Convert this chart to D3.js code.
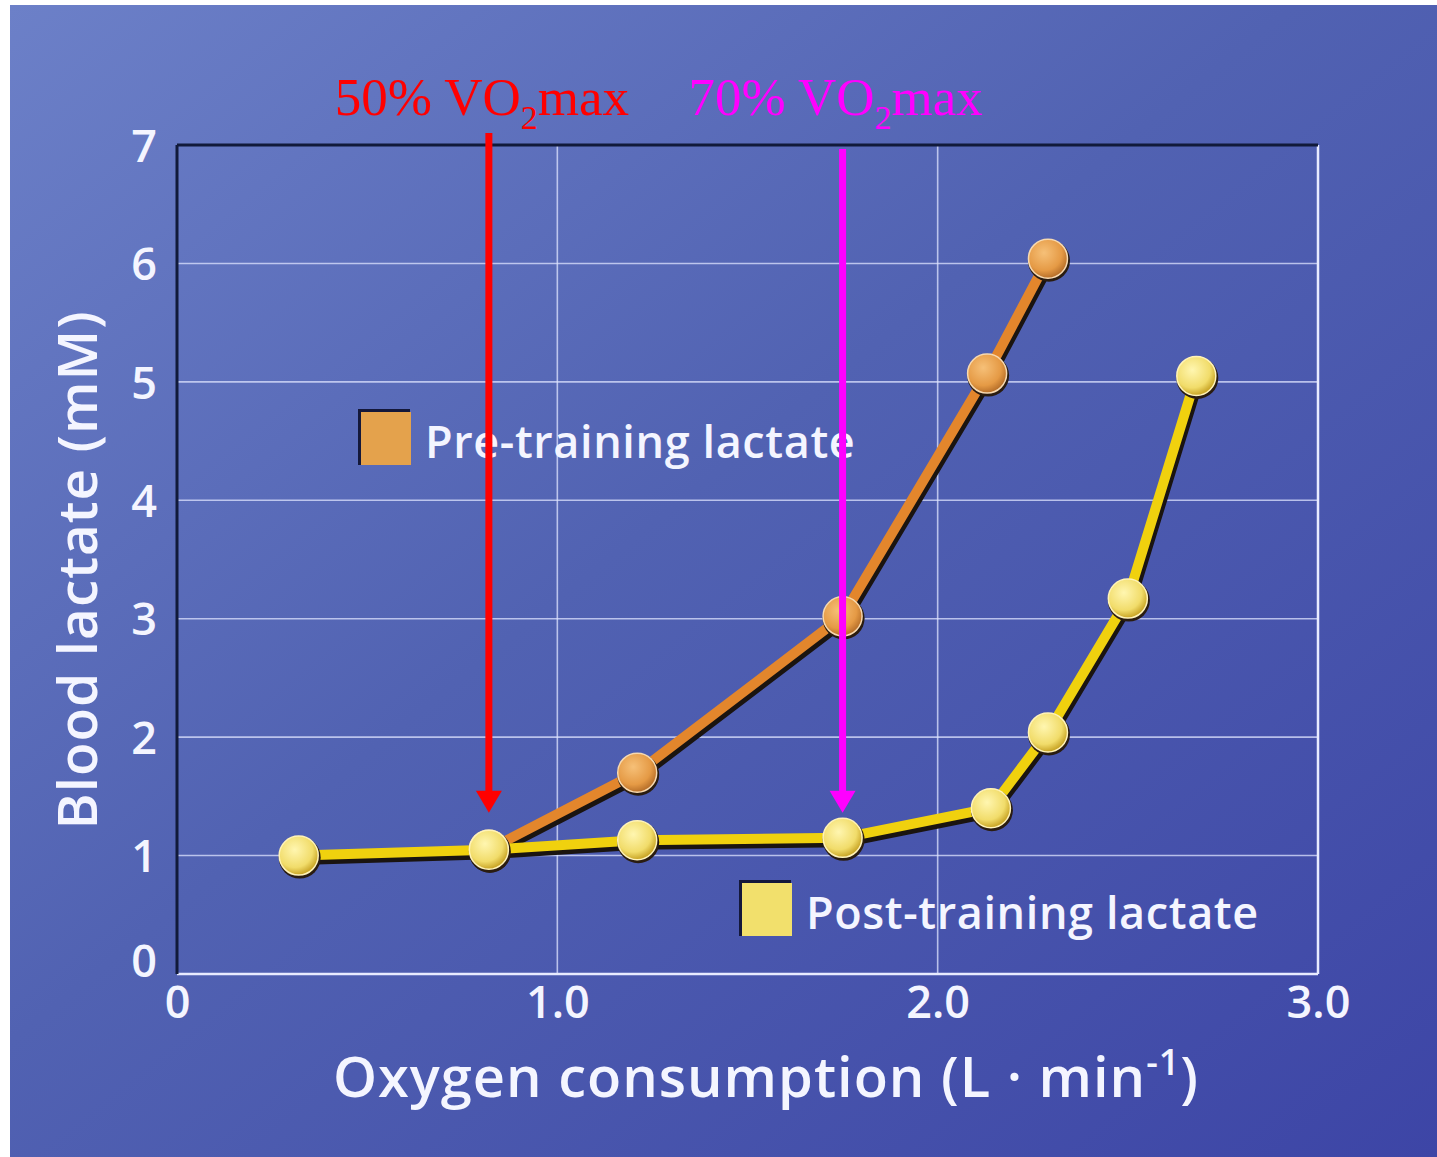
<!DOCTYPE html>
<html>
<head>
<meta charset="utf-8">
<script src="https://cdn.jsdelivr.net/npm/d3@7"></script>
<style>
  body { margin: 0; background: #fff; }
  svg { display: block; }
</style>
</head>
<body>
<div id="chart"></div>
<script>
// values
const preX  = [0.32, 0.82, 1.21, 1.75, 2.13, 2.29];
const preY  = [1.0, 1.05, 1.70, 3.02, 5.07, 6.04];
const postX = [0.32, 0.82, 1.21, 1.75, 2.14, 2.29, 2.50, 2.68];
const postY = [1.0, 1.05, 1.13, 1.15, 1.40, 2.04, 3.17, 5.05];
const xTicks = [0, 1, 2, 3];
const xTickLabels = ["0", "1.0", "2.0", "3.0"];
const yTicks = [0, 1, 2, 3, 4, 5, 6, 7];
const markers = [
  {x: 0.82, label: "50% VO", after: "max", color: "#ff0000"},
  {x: 1.75, label: "70% VO", after: "max", color: "#ff00ff"}
];

const w = 1437, h = 1157;
const sans = "'Open Sans', 'Noto Sans', sans-serif";

const xScale = d3.scaleLinear().domain([0, 3]).range([177, 1318]);
const yScale = d3.scaleLinear().domain([0, 7]).range([974, 145]);

const svg = d3.select("#chart").append("svg")
  .attr("width", w).attr("height", h);

const defs = svg.append("defs");
const bg = defs.append("linearGradient").attr("id", "bg")
  .attr("x1", "0").attr("y1", "0").attr("x2", "1").attr("y2", "1");
bg.append("stop").attr("offset", "0").attr("stop-color", "#6c80c8");
bg.append("stop").attr("offset", "0.45").attr("stop-color", "#5162b2");
bg.append("stop").attr("offset", "1").attr("stop-color", "#3d45a6");

const yb = defs.append("radialGradient").attr("id", "yellowBall")
  .attr("cx", "0.4").attr("cy", "0.35").attr("r", "0.65");
yb.append("stop").attr("offset", "0").attr("stop-color", "#fff6b0");
yb.append("stop").attr("offset", "0.7").attr("stop-color", "#f1dc6a");
yb.append("stop").attr("offset", "1").attr("stop-color", "#c9a526");

const ob = defs.append("radialGradient").attr("id", "orangeBall")
  .attr("cx", "0.4").attr("cy", "0.35").attr("r", "0.65");
ob.append("stop").attr("offset", "0").attr("stop-color", "#f6c078");
ob.append("stop").attr("offset", "0.7").attr("stop-color", "#e59a45");
ob.append("stop").attr("offset", "1").attr("stop-color", "#b8702a");

// background with thin white margin
svg.append("rect").attr("width", w).attr("height", h).attr("fill", "#fff");
svg.append("rect").attr("x", 10).attr("y", 5).attr("width", w - 10).attr("height", h - 5)
  .attr("fill", "url(#bg)");

// grid
const grid = svg.append("g");
grid.selectAll("line.h").data(yTicks.filter(d => d > 0 && d < 7)).enter().append("line")
  .attr("x1", xScale(0)).attr("x2", xScale(3))
  .attr("y1", d => yScale(d)).attr("y2", d => yScale(d))
  .attr("stroke", "#dfe4ff").attr("stroke-opacity", 0.75).attr("stroke-width", 1.6);
grid.selectAll("line.v").data([1, 2]).enter().append("line")
  .attr("x1", d => xScale(d)).attr("x2", d => xScale(d))
  .attr("y1", yScale(7)).attr("y2", yScale(0))
  .attr("stroke", "#dfe4ff").attr("stroke-opacity", 0.75).attr("stroke-width", 1.6);

// frame: light right/bottom, dark top/left
svg.append("line").attr("x1", xScale(3)).attr("x2", xScale(3))
  .attr("y1", yScale(7)).attr("y2", yScale(0))
  .attr("stroke", "#e8ebff").attr("stroke-width", 2.5);
svg.append("line").attr("x1", xScale(0)).attr("x2", xScale(3))
  .attr("y1", yScale(0)).attr("y2", yScale(0))
  .attr("stroke", "#e8ebff").attr("stroke-width", 2.5);
svg.append("line").attr("x1", xScale(0)).attr("x2", xScale(3))
  .attr("y1", yScale(7)).attr("y2", yScale(7))
  .attr("stroke", "#111a3a").attr("stroke-width", 3);
svg.append("line").attr("x1", xScale(0)).attr("x2", xScale(0))
  .attr("y1", yScale(7)).attr("y2", yScale(0))
  .attr("stroke", "#111a3a").attr("stroke-width", 3);

// axes (labels only)
const yAxis = d3.axisLeft(yScale).tickValues(yTicks).tickFormat(d3.format("d"))
  .tickSize(0).tickPadding(20);
const gy = svg.append("g").attr("transform", "translate(" + xScale(0) + ",0)").call(yAxis);
gy.select(".domain").remove();
gy.selectAll("text").attr("fill", "#f4f5ff").attr("font-family", sans)
  .attr("font-weight", 600).attr("font-size", 45).attr("dy", "0.36em");
gy.selectAll(".tick").filter(d => d === 0).select("text").attr("dy", "0.05em");

const xAxis = d3.axisBottom(xScale).tickValues(xTicks)
  .tickFormat((d, i) => xTickLabels[i]).tickSize(0).tickPadding(12);
const gx = svg.append("g").attr("transform", "translate(0," + yScale(0) + ")").call(xAxis);
gx.select(".domain").remove();
gx.selectAll("text").attr("fill", "#f4f5ff").attr("font-family", sans)
  .attr("font-weight", 600).attr("font-size", 45);

// axis titles
const xt = svg.append("text").attr("x", 766).attr("y", 1097)
  .attr("text-anchor", "middle").attr("fill", "#f4f5ff")
  .attr("font-family", sans).attr("font-weight", 600).attr("font-size", 56)
  .attr("letter-spacing", 1)
  .text("Oxygen consumption (L · min");
xt.append("tspan").attr("dy", -22).attr("font-size", 36).text("-1");
xt.append("tspan").attr("dy", 22).text(")");

svg.append("text")
  .attr("transform", "translate(97,570) rotate(-90)")
  .attr("text-anchor", "middle").attr("fill", "#f4f5ff")
  .attr("font-family", sans).attr("font-weight", 600).attr("font-size", 55)
  .attr("letter-spacing", 1)
  .text("Blood lactate (mM)");

// lines
const line = d3.line().x(d => xScale(d[0])).y(d => yScale(d[1]));
const pre = preX.map((x, i) => [x, preY[i]]);
const post = postX.map((x, i) => [x, postY[i]]);

function drawSeries(data, col, ball, rim) {
  const g = svg.append("g");
  g.append("path").datum(data).attr("d", line)
    .attr("transform", "translate(1.5,3)")
    .attr("fill", "none").attr("stroke", "#1a1410").attr("stroke-width", 13)
    .attr("stroke-linejoin", "round");
  g.append("path").datum(data).attr("d", line)
    .attr("fill", "none").attr("stroke", col).attr("stroke-width", 10)
    .attr("stroke-linejoin", "round");
  g.selectAll("circle.s").data(data).enter().append("circle")
    .attr("cx", d => xScale(d[0]) + 1).attr("cy", d => yScale(d[1]) + 2)
    .attr("r", 21).attr("fill", "#2a1c10");
  g.selectAll("circle.b").data(data).enter().append("circle")
    .attr("cx", d => xScale(d[0])).attr("cy", d => yScale(d[1]))
    .attr("r", 19.5).attr("fill", "url(#" + ball + ")")
    .attr("stroke", rim).attr("stroke-width", 1.5);
}
drawSeries(pre.slice(1), "#e3862c", "orangeBall", "#f7d9b0");
drawSeries(post, "#f0d10e", "yellowBall", "#fff3b8");

// legend
function legendItem(x, y, fill, label) {
  svg.append("rect").attr("x", x - 3).attr("y", y - 3).attr("width", 52).attr("height", 56)
    .attr("fill", "#14183a");
  svg.append("rect").attr("x", x).attr("y", y).attr("width", 50).attr("height", 53)
    .attr("fill", fill);
  svg.append("text").attr("x", x + 64).attr("y", y + 46)
    .attr("fill", "#f4f5ff").attr("font-family", sans).attr("font-weight", 600)
    .attr("font-size", 45).attr("letter-spacing", 0.6).text(label);
}
legendItem(361, 412, "#e4a24c", "Pre-training lactate");
legendItem(742, 883, "#f2e06c", "Post-training lactate");

// VO2max markers with arrows
markers.forEach((m, i) => {
  const x = xScale(m.x);
  const top = i === 0 ? 133 : 149;
  const tip = yScale(1.05) - 37;
  svg.append("line").attr("x1", x).attr("x2", x).attr("y1", top).attr("y2", tip - 18)
    .attr("stroke", m.color).attr("stroke-width", 7);
  svg.append("path")
    .attr("d", "M" + (x - 13) + "," + (tip - 22) + "L" + (x + 13) + "," + (tip - 22) + "L" + x + "," + tip + "Z")
    .attr("fill", m.color);
  const t = svg.append("text").attr("x", x - 7).attr("y", 115)
    .attr("text-anchor", "middle").attr("fill", m.color)
    .attr("font-family", "'Liberation Serif', 'Times New Roman', serif")
    .attr("font-size", 53).text(m.label);
  t.append("tspan").attr("dy", 14).attr("font-size", 34).text("2");
  t.append("tspan").attr("dy", -14).text(m.after);
});
</script>
</body>
</html>
